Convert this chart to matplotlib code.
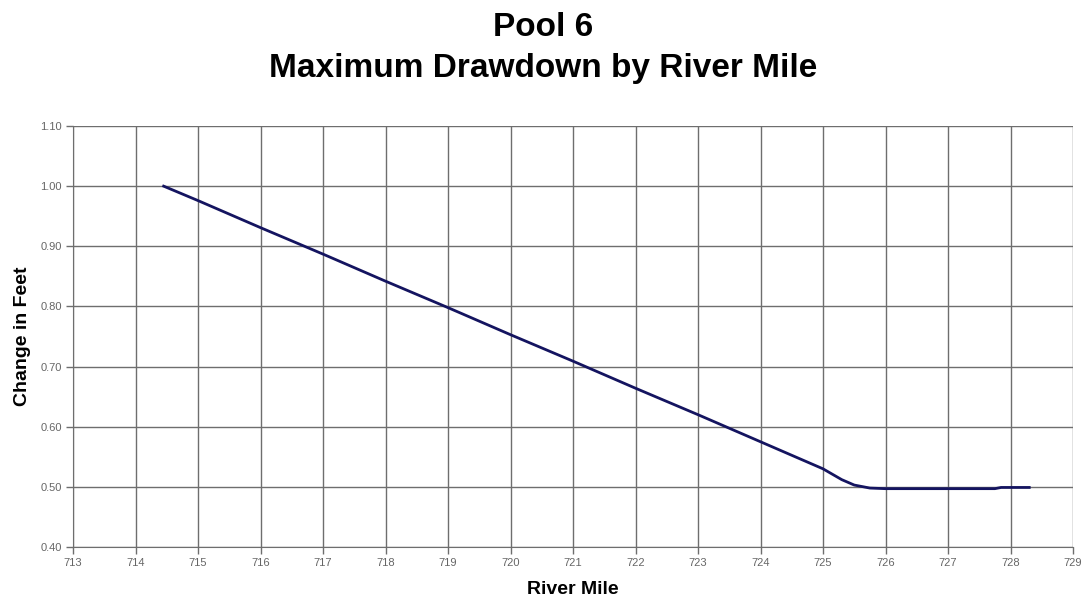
import matplotlib
matplotlib.use("Agg")
import matplotlib.pyplot as plt
import numpy as np

# values
river_mile = [714.45, 715, 716, 717, 718, 719, 720, 721, 722, 723, 724,
              725, 725.3, 725.5, 725.75, 726, 727, 727.75, 727.85, 728.3]
change_ft = [1.000, 0.976, 0.931, 0.887, 0.842, 0.798, 0.753, 0.709, 0.664,
             0.620, 0.575, 0.530, 0.512, 0.503, 0.498, 0.497, 0.497, 0.497,
             0.499, 0.499]
x_ticks = list(range(713, 730))
y_ticks = [0.40, 0.50, 0.60, 0.70, 0.80, 0.90, 1.00, 1.10]

plt.rcParams['font.family'] = ['Liberation Sans', 'DejaVu Sans']

fig = plt.figure(figsize=(10.86, 6.01), dpi=100)
ax = fig.add_axes([73 / 1086, 1 - 547 / 601, 1000 / 1086, 421 / 601])

ax.plot(river_mile, change_ft, color='#141460', linewidth=2, zorder=3)

ax.set_xlim(713, 729)
ax.set_ylim(0.40, 1.10)
ax.set_xticks(x_ticks)
ax.set_yticks(y_ticks)
ax.set_yticklabels([f"{v:.2f}" for v in y_ticks])
ax.grid(True, color='#6e6e6e', linewidth=1)
ax.set_axisbelow(True)
for side in ['top', 'right']:
    ax.spines[side].set_visible(False)
for side in ['left', 'bottom']:
    ax.spines[side].set_color('#6e6e6e')
ax.tick_params(axis='both', direction='out', length=5, width=1,
               color='#6e6e6e', labelsize=8, labelcolor='#666666', pad=3)

ax.set_xlabel('River Mile', fontsize=14, fontweight='bold', labelpad=9)
ax.set_ylabel('Change in Feet', fontsize=14, fontweight='bold', labelpad=7)

fig.text(0.5, 1 - 27 / 601, 'Pool 6', ha='center', va='center',
         fontsize=24, fontweight='bold')
fig.text(0.5, 1 - 68 / 601, 'Maximum Drawdown by River Mile', ha='center',
         va='center', fontsize=24, fontweight='bold')

fig.savefig('out.png', dpi=100)
